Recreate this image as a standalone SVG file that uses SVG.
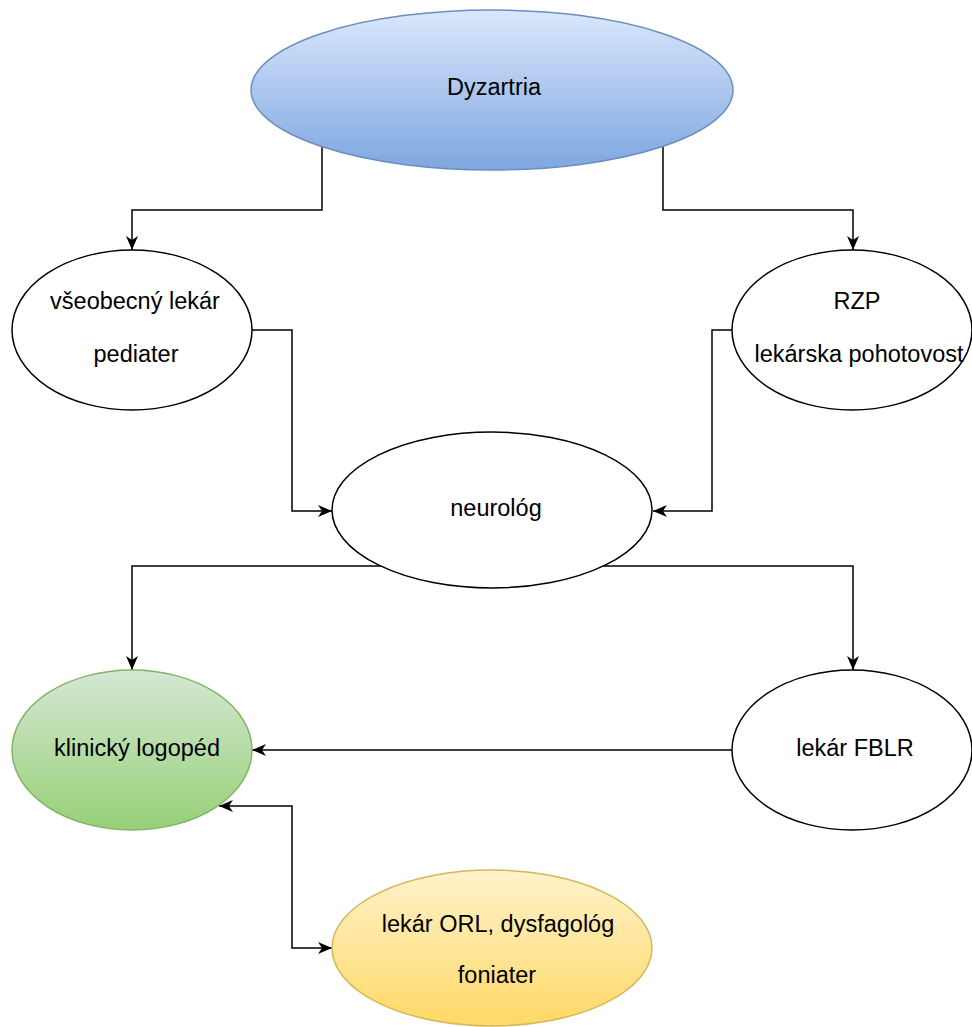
<svg xmlns="http://www.w3.org/2000/svg" width="972" height="1027" viewBox="0 0 972 1027">
<style>
.n{stroke-width:1.5}
.w{fill:#fff;stroke:#000}
.t{font-family:"Liberation Sans",Arial,sans-serif;font-size:23.5px;fill:#000;text-anchor:middle}
.c{fill:none;stroke:#000;stroke-width:1.5}
</style>
<defs>
<linearGradient id="gb" x1="0" y1="0" x2="0" y2="1"><stop offset="0" stop-color="#dae8fc"/><stop offset="1" stop-color="#7ea6e0"/></linearGradient>
<linearGradient id="gg" x1="0" y1="0" x2="0" y2="1"><stop offset="0" stop-color="#d5e8d4"/><stop offset="1" stop-color="#97d077"/></linearGradient>
<linearGradient id="gy" x1="0" y1="0" x2="0" y2="1"><stop offset="0" stop-color="#fff2cc"/><stop offset="1" stop-color="#ffd966"/></linearGradient>
<marker id="ae" viewBox="0 0 14 12" refX="14" refY="6" markerWidth="14" markerHeight="12" markerUnits="userSpaceOnUse" orient="auto">
<path d="M0,0 L14,6 L0,12 L4,6 z" fill="#000"/>
</marker>
<marker id="as" viewBox="0 0 14 12" refX="0" refY="6" markerWidth="14" markerHeight="12" markerUnits="userSpaceOnUse" orient="auto">
<path d="M14,0 L0,6 L14,12 L10,6 z" fill="#000"/>
</marker>
</defs>
<g id="connectors">
<path class="c" d="M322,147 V210 H132 V250" marker-end="url(#ae)"/>
<path class="c" d="M663,147 V210 H853 V250" marker-end="url(#ae)"/>
<path class="c" d="M252,330 H292 V511 H332" marker-end="url(#ae)"/>
<path class="c" d="M732,330 H712 V511 H653" marker-end="url(#ae)"/>
<path class="c" d="M381,566 H132 V670" marker-end="url(#ae)"/>
<path class="c" d="M603,566 H853 V670" marker-end="url(#ae)"/>
<path class="c" d="M732,750 H252" marker-end="url(#ae)"/>
<path class="c" d="M219,806 H292 V948 H332" marker-start="url(#as)" marker-end="url(#ae)"/>
</g>
<g id="dyzartria">
<ellipse class="n" cx="492" cy="90" rx="241" ry="80" fill="url(#gb)" stroke="#6c8ebf"/>
<text class="t" x="494" y="95">Dyzartria</text>
</g>
<g id="vseobecny">
<ellipse class="n w" cx="132" cy="330" rx="120" ry="80"/>
<text class="t" x="135" y="309">všeobecný lekár</text>
<text class="t" x="136" y="362">pediater</text>
</g>
<g id="rzp">
<ellipse class="n w" cx="852" cy="330" rx="120" ry="80"/>
<text class="t" x="857" y="309">RZP</text>
<text class="t" x="859" y="362">lekárska pohotovost</text>
</g>
<g id="neurolog">
<ellipse class="n w" cx="492" cy="510" rx="160" ry="78"/>
<text class="t" x="496" y="516">neurológ</text>
</g>
<g id="logoped">
<ellipse class="n" cx="132" cy="750" rx="120" ry="80" fill="url(#gg)" stroke="#82b366"/>
<text class="t" x="137" y="756">klinický logopéd</text>
</g>
<g id="fblr">
<ellipse class="n w" cx="852" cy="750" rx="120" ry="80"/>
<text class="t" x="855" y="756">lekár FBLR</text>
</g>
<g id="orl">
<ellipse class="n" cx="492" cy="948" rx="160" ry="78" fill="url(#gy)" stroke="#d6b656"/>
<text class="t" x="498" y="932">lekár ORL, dysfagológ</text>
<text class="t" x="497" y="983">foniater</text>
</g>
</svg>
